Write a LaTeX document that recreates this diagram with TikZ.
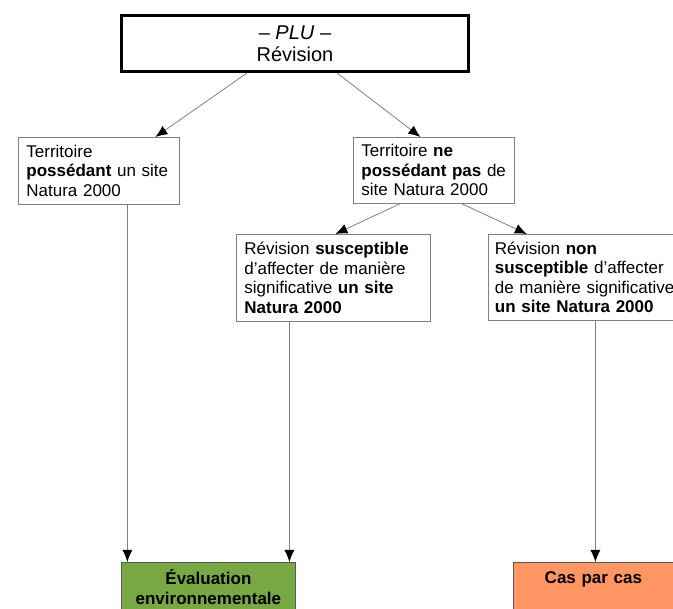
\documentclass[tikz,border=0pt]{standalone}
\usepackage{fontspec}
\setmainfont{Liberation Sans}
\usetikzlibrary{arrows.meta}

\definecolor{evalgreen}{RGB}{119,168,68}
\definecolor{caseorange}{RGB}{255,150,100}

\begin{document}
\begin{tikzpicture}[x=1pt, y=1pt,
    box/.style={draw=gray, line width=0.8pt, fill=white, anchor=north west, inner xsep=8pt, inner ysep=4pt, align=left, font=\fontsize{17}{19.5}\selectfont},
    outcome/.style={draw=gray!70!black, line width=0.8pt, anchor=north west, inner xsep=8pt, align=center, font=\bfseries\fontsize{17}{20}\selectfont},
    flow/.style={draw=gray, line width=0.8pt, -{Latex[black, length=12pt, width=10pt]}}]
    \clip (0, 0) rectangle (673, -609);

    % decision tree
    \node[draw, line width=3pt, minimum width=347pt, minimum height=56pt, align=center, font=\fontsize{20}{22}\selectfont] at (295, -43.5) (revision) {-- \textit{PLU} --\\R\'evision};

    \node[box, text width=145pt, minimum height=67pt] at (18, -137) (avec) {Territoire\\\textbf{poss\'edant} un site\\Natura 2000};
    \node[box, text width=145pt, minimum height=66pt] at (353, -137) (sans) {Territoire \textbf{ne}\\\textbf{poss\'edant pas} de\\site Natura 2000};

    \node[box, text width=178pt, minimum height=87pt] at (236, -234) (susc) {R\'evision \textbf{susceptible}\\d'affecter de mani\`ere\\significative \textbf{un site}\\\textbf{Natura 2000}};
    \node[box, inner xsep=6.5pt, text width=190pt, minimum height=86pt] at (488, -234) (nonsusc) {R\'evision \textbf{non}\\\textbf{susceptible} d'affecter\\de mani\`ere significative\\\textbf{un site Natura 2000}};

    \node[outcome, fill=evalgreen, text width=158pt, minimum height=50pt] at (121, -562) (evaluation) {\'Evaluation\\environnementale};
    \node[outcome, fill=caseorange, text width=144pt, text height=18pt, text depth=40pt, inner ysep=3pt] at (513, -562) (cas) {Cas par cas};

    \draw[flow] ([xshift=-48pt]revision.south) -- ([xshift=56.5pt]avec.north);
    \draw[flow] ([xshift=42pt]revision.south) -- ([xshift=-13.5pt]sans.north);

    \draw[flow] ([xshift=-34pt]sans.south) -- ([xshift=2pt]susc.north);
    \draw[flow] ([xshift=28pt]sans.south) -- ([xshift=-63pt]nonsusc.north);

    \draw[flow] ([xshift=28.5pt]avec.south) -- ([xshift=28.5pt]avec.south |- evaluation.north);
    \draw[flow] ([xshift=-44pt]susc.south) -- ([xshift=-44pt]susc.south |- evaluation.north);
    \draw[flow] ([xshift=5.5pt]nonsusc.south) -- ([xshift=5.5pt]nonsusc.south |- cas.north);
\end{tikzpicture}
\end{document}
